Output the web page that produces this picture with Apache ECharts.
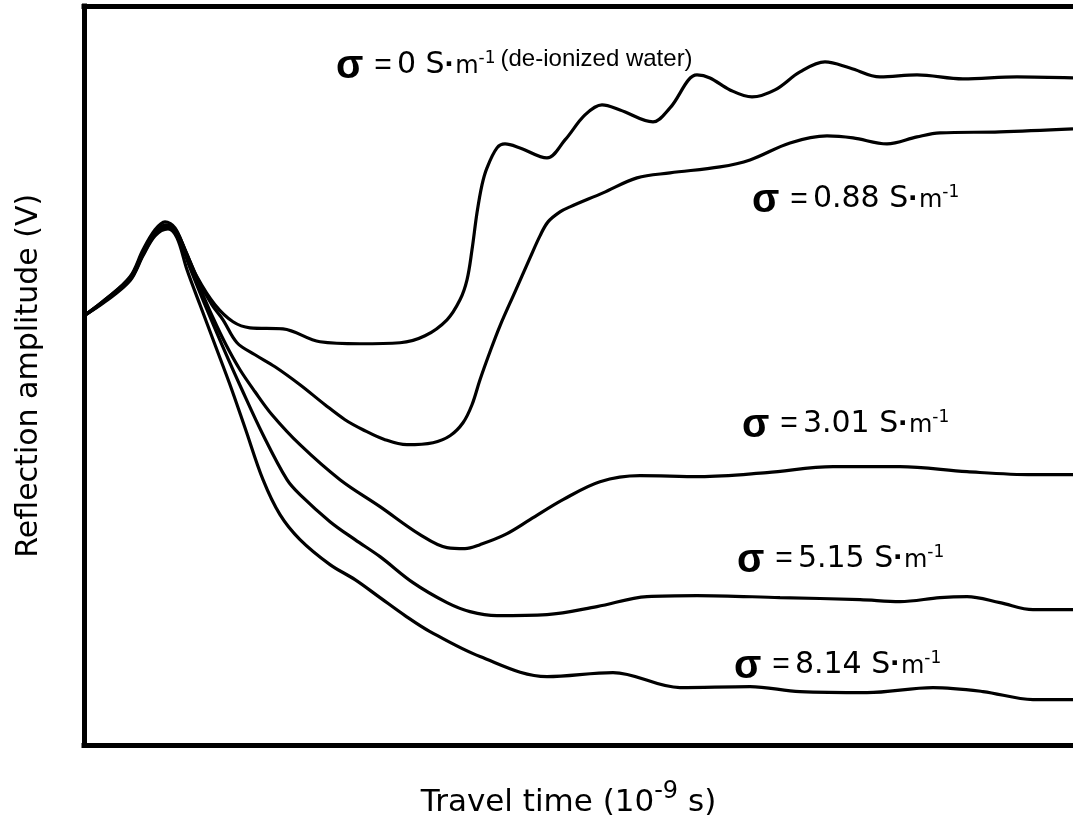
<!DOCTYPE html>
<html>
<head>
<meta charset="utf-8">
<script src="https://cdn.jsdelivr.net/npm/echarts@6/dist/echarts.min.js"></script>
<style>
html,body{margin:0;padding:0;background:#fff;}
#chart{width:1073px;height:823px;}
</style>
</head>
<body>
<div id="chart"></div>
<script>
// Travel time (arbitrary units) vs reflection amplitude (V)
const sigma0 = [[0,0.060],[0.21,0.076],[0.46,0.099],[0.59,0.126],[0.71,0.146],[0.81,0.154],[0.91,0.148],[1.01,0.126],[1.13,0.099],[1.31,0.071],[1.49,0.054],[1.66,0.048],[1.99,0.047],[2.36,0.034],[2.76,0.032],[3.16,0.033],[3.41,0.040],[3.63,0.056],[3.76,0.076],[3.83,0.096],[3.88,0.126],[3.93,0.163],[3.98,0.191],[4.03,0.208],[4.13,0.228],[4.21,0.232],[4.36,0.228],[4.63,0.218],[4.81,0.236],[5.01,0.261],[5.18,0.271],[5.36,0.266],[5.69,0.254],[5.86,0.268],[6.13,0.301],[6.26,0.298],[6.46,0.286],[6.68,0.279],[6.91,0.286],[7.16,0.304],[7.41,0.314],[7.66,0.308],[7.96,0.299],[8.33,0.301],[8.79,0.297],[9.33,0.299],[9.89,0.298]];
const sigma088 = [[0,0.060],[0.21,0.076],[0.46,0.098],[0.59,0.124],[0.71,0.144],[0.82,0.151],[0.92,0.145],[1.02,0.124],[1.14,0.096],[1.28,0.071],[1.39,0.056],[1.53,0.033],[1.71,0.021],[1.91,0.009],[2.16,-0.009],[2.41,-0.029],[2.61,-0.044],[2.79,-0.054],[3.01,-0.064],[3.23,-0.069],[3.49,-0.067],[3.66,-0.060],[3.79,-0.047],[3.88,-0.029],[3.96,-0.004],[4.06,0.024],[4.16,0.050],[4.31,0.084],[4.46,0.118],[4.56,0.140],[4.64,0.154],[4.76,0.164],[4.86,0.169],[5.19,0.183],[5.53,0.198],[5.86,0.203],[6.36,0.209],[6.66,0.216],[7.06,0.233],[7.43,0.240],[7.69,0.238],[8.03,0.232],[8.33,0.239],[8.56,0.243],[9.16,0.244],[9.89,0.247]];
const sigma301 = [[0,0.060],[0.21,0.075],[0.46,0.097],[0.59,0.122],[0.71,0.142],[0.83,0.149],[0.93,0.142],[1.04,0.118],[1.16,0.088],[1.29,0.058],[1.42,0.031],[1.56,0.006],[1.71,-0.016],[1.88,-0.039],[2.16,-0.069],[2.56,-0.104],[2.96,-0.131],[3.36,-0.159],[3.63,-0.172],[3.81,-0.173],[3.96,-0.169],[4.21,-0.159],[4.46,-0.144],[4.79,-0.124],[5.16,-0.106],[5.56,-0.100],[6.16,-0.101],[6.83,-0.097],[7.49,-0.091],[8.16,-0.091],[8.83,-0.096],[9.49,-0.099],[9.89,-0.099]];
const sigma515 = [[0,0.060],[0.21,0.075],[0.46,0.096],[0.59,0.121],[0.71,0.141],[0.84,0.148],[0.94,0.139],[1.06,0.108],[1.21,0.071],[1.38,0.031],[1.58,-0.014],[1.79,-0.059],[2.03,-0.104],[2.16,-0.119],[2.46,-0.146],[2.71,-0.164],[2.96,-0.181],[3.29,-0.207],[3.63,-0.227],[3.86,-0.236],[4.13,-0.240],[4.63,-0.239],[5.13,-0.231],[5.63,-0.221],[6.13,-0.220],[6.96,-0.222],[7.76,-0.224],[8.16,-0.226],[8.56,-0.222],[8.83,-0.221],[9.16,-0.227],[9.49,-0.234],[9.89,-0.234]];
const sigma814 = [[0,0.060],[0.21,0.074],[0.46,0.095],[0.59,0.120],[0.71,0.140],[0.84,0.147],[0.93,0.138],[1.03,0.106],[1.16,0.071],[1.31,0.031],[1.46,-0.009],[1.61,-0.052],[1.79,-0.104],[1.96,-0.139],[2.16,-0.164],[2.46,-0.189],[2.71,-0.204],[2.96,-0.222],[3.21,-0.240],[3.46,-0.256],[3.96,-0.281],[4.63,-0.301],[5.29,-0.297],[5.96,-0.312],[6.66,-0.311],[7.16,-0.316],[7.83,-0.317],[8.49,-0.312],[8.99,-0.316],[9.49,-0.324],[9.89,-0.324]];

const conductivities = ['0', '0.88', '3.01', '5.15', '8.14'];
const seriesData = [sigma0, sigma088, sigma301, sigma515, sigma814];
const labelNotes = ['(de-ionized water)', '', '', '', ''];
const xAxisName = '{t|Travel time (10}{sup|-9}{t| s)}';
const yAxisName = 'Reflection amplitude (V)';

// label anchor points in data coordinates (left of σ, text baseline)
const labelAnchors = [[2.52, 0.303], [6.68, 0.169], [6.58, -0.056], [6.53, -0.191], [6.50, -0.297]];

const chart = echarts.init(document.getElementById('chart'), null, {renderer: 'canvas'});

// tokens are bottom-aligned; bottom padding lifts each one to a common baseline
const rich = {
  s: {fontFamily: 'Liberation Sans', fontWeight: 'bold', fontSize: 40, verticalAlign: 'bottom', padding: [0, 1, 2, 0], fill: '#000'},
  e: {fontFamily: 'Liberation Sans', fontSize: 30, verticalAlign: 'bottom', padding: [0, 5, 8.5, 10], fill: '#000'},
  t: {fontFamily: 'DejaVu Sans', fontSize: 30, verticalAlign: 'bottom', padding: [0, 0, 8.5, 0], fill: '#000'},
  d: {fontFamily: 'Liberation Sans', fontWeight: 'bold', fontSize: 32, verticalAlign: 'bottom', padding: [0, 0, 8, 0], fill: '#000'},
  m: {fontFamily: 'DejaVu Sans', fontSize: 24, verticalAlign: 'bottom', padding: [0, 0, 10, 0], fill: '#000'},
  u: {fontFamily: 'DejaVu Sans', fontSize: 17, verticalAlign: 'bottom', padding: [0, 0, 21.5, 0], fill: '#000'},
  p: {fontFamily: 'Liberation Sans', fontSize: 24, verticalAlign: 'bottom', padding: [0, 0, 18, 5], fill: '#000'}
};
const baseLift = 16;

const frameLine = {show: true, onZero: false, lineStyle: {color: '#000', width: 5, cap: 'square'}};

chart.setOption({
  animation: false,
  backgroundColor: '#fff',
  grid: {left: 84, top: 6, right: 0, bottom: 77, show: false},
  xAxis: [{
    type: 'value', min: 0, max: 9.89, position: 'bottom',
    axisLine: frameLine, axisTick: {show: false}, axisLabel: {show: false}, splitLine: {show: false},
    name: xAxisName, nameLocation: 'middle', nameGap: 34,
    nameTextStyle: {
      padding: [0, 20, 0, 0], color: '#000',
      rich: {
        t: {fontFamily: 'DejaVu Sans', fontSize: 31, verticalAlign: 'bottom', color: '#000'},
        sup: {fontFamily: 'DejaVu Sans', fontSize: 24, verticalAlign: 'bottom', padding: [0, 0, 14.5, 0], color: '#000'}
      }
    }
  }, {
    type: 'value', min: 0, max: 9.89, position: 'top',
    axisLine: frameLine, axisTick: {show: false}, axisLabel: {show: false}, splitLine: {show: false}
  }],
  yAxis: {
    type: 'value', min: -0.37, max: 0.37, position: 'left',
    axisLine: frameLine, axisTick: {show: false}, axisLabel: {show: false}, splitLine: {show: false},
    name: yAxisName, nameLocation: 'middle', nameGap: 40,
    nameTextStyle: {fontFamily: 'DejaVu Sans', fontSize: 30, color: '#000'}
  },
  series: seriesData.map((d, i) => ({
    type: 'line', name: conductivities[i], data: d, xAxisIndex: 0, showSymbol: false, symbol: 'none',
    smooth: 0.35, lineStyle: {color: '#000', width: 3.2}, silent: true, clip: true
  }))
});

const graphics = labelAnchors.map((a, i) => {
  const p = chart.convertToPixel({xAxisIndex: 0, yAxisIndex: 0}, a);
  let txt = '{s|σ}{e|=}{t|' + conductivities[i] + ' S}{d|·}{m|m}{u|-1}';
  if (labelNotes[i]) txt += '{p|' + labelNotes[i] + '}';
  return {type: 'text', x: p[0], y: p[1] + baseLift, z: 100, style: {text: txt, rich: rich, align: 'left', verticalAlign: 'bottom'}};
});
chart.setOption({graphic: graphics});
</script>
</body>
</html>
